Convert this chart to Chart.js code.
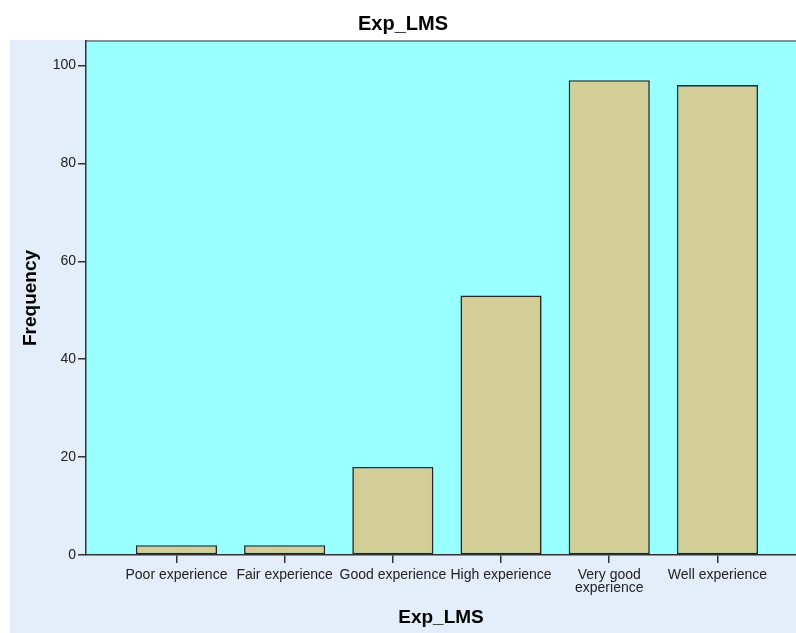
<!DOCTYPE html>
<html>
<head>
<meta charset="utf-8">
<title>Exp_LMS</title>
<script src="https://cdn.jsdelivr.net/npm/chart.js@4.4.1/dist/chart.umd.min.js"></script>
<style>
  html, body { margin:0; padding:0; background:#fff; }
  #wrap { width:796px; height:633px; }
</style>
</head>
<body>
<div id="wrap"><canvas id="chart" width="796" height="633"></canvas></div>
<script>
// ————— Data —————
const categories = ['Poor experience', 'Fair experience', 'Good experience', 'High experience', 'Very good experience', 'Well experience'];
const tickLabels = ['Poor experience', 'Fair experience', 'Good experience', 'High experience', ['Very good', 'experience'], 'Well experience'];
const frequency  = [2, 2, 18, 53, 97, 96];
const yTicks     = [0, 20, 40, 60, 80, 100];

// ————— Styles —————
const panelColor = '#e4eefa';
const plotColor  = '#99ffff';
const barColor   = '#d3ce98';
const lineColor  = '#333333';
const fontFamily = "'Liberation Sans', Arial, sans-serif";

Chart.defaults.font.family = fontFamily;
Chart.defaults.color = '#222';

// ————— Background panel + plot fill —————
const panelBg = {
  id: 'panelBg',
  beforeDraw(chart) {
    const { ctx, chartArea: a, width, height } = chart;
    const left = chart.options.layout.padding.left;
    ctx.save();
    ctx.fillStyle = panelColor;
    ctx.fillRect(left, a.top - 1, width - left, height - a.top + 1);
    ctx.fillStyle = plotColor;
    ctx.fillRect(a.left, a.top, a.right - a.left, a.bottom - a.top);
    // top frame line
    ctx.strokeStyle = '#8c8c8c';
    ctx.lineWidth = 2;
    ctx.beginPath();
    ctx.moveTo(a.left, a.top);
    ctx.lineTo(a.right, a.top);
    ctx.stroke();
    ctx.restore();
  }
};

// ————— Chart —————
const data = frequency.map((v, i) => ({ x: i, y: v }));

new Chart(document.getElementById('chart'), {
  type: 'bar',
  data: {
    datasets: [{
      label: 'Frequency',
      data,
      backgroundColor: barColor,
      borderColor: '#262626',
      borderWidth: 1.6,
      borderSkipped: false,
      barPercentage: 0.75,
      categoryPercentage: 1
    }]
  },
  options: {
    responsive: false,
    animation: false,
    devicePixelRatio: 1,
    layout: { padding: { left: 10, top: 0, right: 0, bottom: 0 } },
    plugins: {
      legend: { display: false },
      tooltip: { enabled: false },
      title: {
        display: true,
        text: 'Exp_LMS',
        color: '#000',
        font: { size: 20, weight: 'bold', family: fontFamily },
        padding: { top: 12, bottom: 5 }
      }
    },
    scales: {
      x: {
        type: 'linear',
        offset: false,
        min: -0.836,
        max: 5.726,
        afterBuildTicks: s => { s.ticks = categories.map((c, i) => ({ value: i })); },
        afterFit: s => { s.height = 78; },
        grid: { offset: false, drawOnChartArea: false, tickLength: 8, color: lineColor, lineWidth: 1.5 },
        border: { display: true, color: lineColor, width: 1.5 },
        ticks: {
          autoSkip: false, maxRotation: 0, minRotation: 0, padding: 6,
          color: '#222',
          font: { size: 14, lineHeight: 0.9 },
          callback: v => tickLabels[v]
        },
        title: {
          display: true, text: 'Exp_LMS', color: '#000',
          font: { size: 19, weight: 'bold' },
          padding: { top: 0, bottom: 4 }
        }
      },
      y: {
        min: 0,
        max: 105,
        afterBuildTicks: s => { s.ticks = yTicks.map(v => ({ value: v })); },
        afterFit: s => { s.width = 76; },
        grid: { drawOnChartArea: false, tickLength: 8, color: lineColor, lineWidth: 1.5 },
        border: { display: true, color: lineColor, width: 1.5 },
        ticks: { padding: 2, color: '#222', font: { size: 14 } },
        title: {
          display: true, text: 'Frequency', color: '#000',
          font: { size: 19, weight: 'bold' },
          padding: { top: 9, bottom: 0 }
        }
      }
    }
  },
  plugins: [panelBg]
});
</script>
</body>
</html>
